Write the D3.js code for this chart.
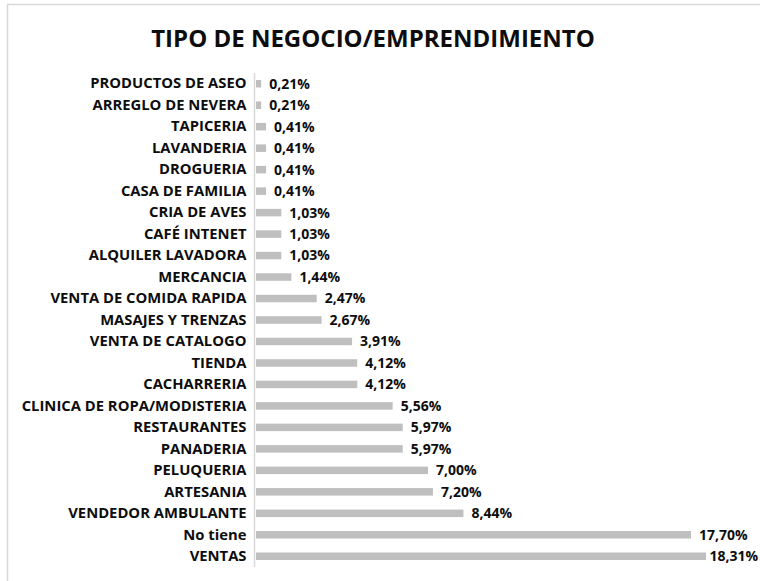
<!DOCTYPE html>
<html><head><meta charset="utf-8">
<script src="https://cdn.jsdelivr.net/npm/d3@7"></script>
<style>body{margin:0;background:#fff;} svg{display:block;}</style>
</head><body>
<svg id="c" width="760" height="581"></svg>
<script>
const categories = ["PRODUCTOS DE ASEO","ARREGLO DE NEVERA","TAPICERIA","LAVANDERIA","DROGUERIA","CASA DE FAMILIA","CRIA DE AVES","CAFÉ INTENET","ALQUILER LAVADORA","MERCANCIA","VENTA DE COMIDA RAPIDA","MASAJES Y TRENZAS","VENTA DE CATALOGO","TIENDA","CACHARRERIA","CLINICA DE ROPA/MODISTERIA","RESTAURANTES","PANADERIA","PELUQUERIA","ARTESANIA","VENDEDOR AMBULANTE","No tiene","VENTAS"];
const values = [0.21,0.21,0.41,0.41,0.41,0.41,1.03,1.03,1.03,1.44,2.47,2.67,3.91,4.12,4.12,5.56,5.97,5.97,7.00,7.20,8.44,17.70,18.31];
const title = "TIPO DE NEGOCIO/EMPRENDIMIENTO";

const svg = d3.select("#c");
const font = "'Open Sans', sans-serif";

svg.append("rect").attr("x",7.5).attr("y",4.5).attr("width",900).attr("height",900)
  .attr("fill","none").attr("stroke","#d9d9d9").attr("stroke-width",1.5);

svg.append("text").attr("x",373).attr("y",47).attr("text-anchor","middle")
  .attr("font-family",font).attr("font-weight","bold").attr("font-size",24)
  .attr("fill","#0d0d0d").text(title);

const x0 = 256;
const x = d3.scaleLinear().domain([0,18.31]).range([x0,706]);
const y = d3.scaleBand().domain(categories).range([73,567]).paddingInner(0.65).paddingOuter(0.325);

svg.append("g").selectAll("rect").data(categories).join("rect")
  .attr("x",x(0)).attr("y",d=>y(d)).attr("height",y.bandwidth())
  .attr("width",(d,i)=>x(values[i])-x(0)).attr("fill","#bfbfbf");

const yAxis = d3.axisLeft(y).tickSize(0).tickPadding(8);
const ga = svg.append("g").attr("transform",`translate(${x0-1.5},0)`).call(yAxis);
ga.select(".domain").attr("stroke","#d9d9d9").attr("stroke-width",1.5).attr("d","M0,73V567");
ga.selectAll("text").attr("font-family",font).attr("font-weight","bold").attr("font-size",14.8).attr("fill","#0d0d0d");

svg.append("g").selectAll("text").data(categories).join("text")
  .attr("x",(d,i)=>x(values[i])+8).attr("y",d=>y(d)+y.bandwidth()/2).attr("dy","0.35em")
  .attr("font-family",font).attr("font-weight","bold").attr("font-size",14).attr("fill","#0d0d0d")
  .text((d,i)=>values[i].toFixed(2).replace(".",",")+"%")
  .each(function(){
    const w = this.getComputedTextLength();
    const xx = +this.getAttribute("x");
    if (xx + w > 758) this.setAttribute("x", 758 - w);
  });
</script>
</body></html>
